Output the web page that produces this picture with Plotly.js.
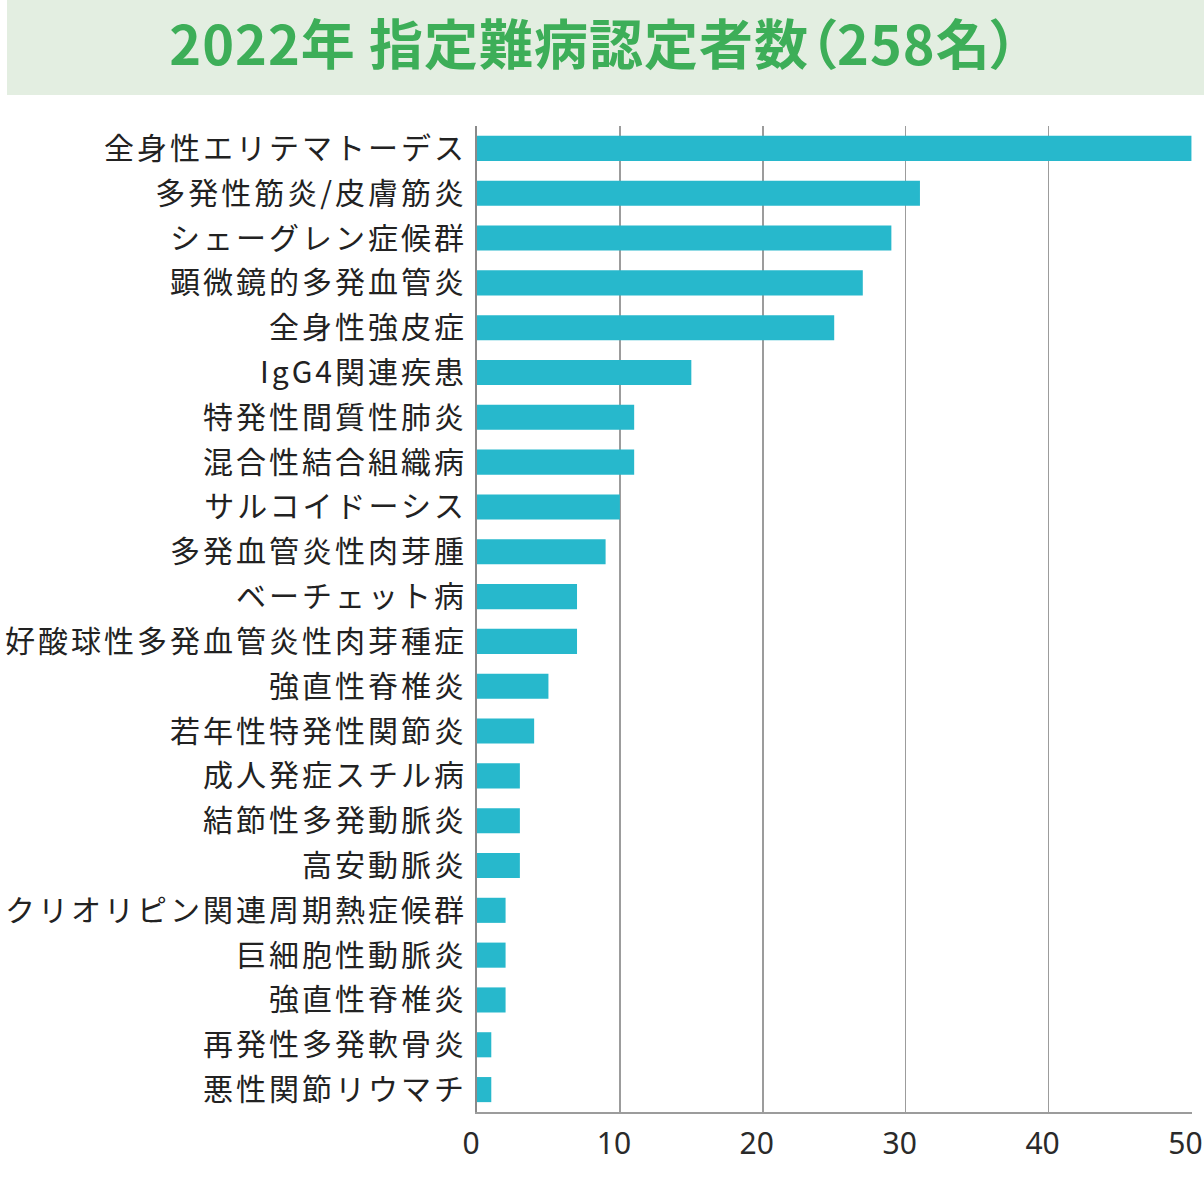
<!DOCTYPE html>
<html>
<head>
<meta charset="utf-8">
<script src="https://cdn.plot.ly/plotly-3.0.1.min.js"></script>
<style>
  html, body { margin: 0; padding: 0; background: #fff; }
  #chart { width: 1204px; height: 1181px; }
  .gtitle { font-feature-settings: "palt"; letter-spacing: 1px; }
  .ytick text { letter-spacing: 3px; }
</style>
</head>
<body>
<div id="chart"></div>
<script>
// 病名と認定者数（上から順）
const diseases = [
  '全身性エリテマトーデス',
  '多発性筋炎/皮膚筋炎',
  'シェーグレン症候群',
  '顕微鏡的多発血管炎',
  '全身性強皮症',
  'IgG4関連疾患',
  '特発性間質性肺炎',
  '混合性結合組織病',
  'サルコイドーシス',
  '多発血管炎性肉芽腫',
  'ベーチェット病',
  '好酸球性多発血管炎性肉芽種症',
  '強直性脊椎炎',
  '若年性特発性関節炎',
  '成人発症スチル病',
  '結節性多発動脈炎',
  '高安動脈炎',
  'クリオリピン関連周期熱症候群',
  '巨細胞性動脈炎',
  '強直性脊椎炎',
  '再発性多発軟骨炎',
  '悪性関節リウマチ'
];
const counts = [50, 31, 29, 27, 25, 15, 11, 11, 10, 9, 7, 7, 5, 4, 3, 3, 3, 2, 2, 2, 1, 1];
const xTicks = [0, 10, 20, 30, 40, 50];

// the same label appears twice, so the rows go by index
const rows = diseases.map((d, i) => i);

const trace = {
  type: 'bar',
  orientation: 'h',
  x: counts,
  y: rows,
  width: 0.56,
  marker: { color: '#27b8cc' },
  hoverinfo: 'x'
};

const layout = {
  width: 1204,
  height: 1181,
  margin: { l: 477, r: 12, t: 126, b: 69 },
  paper_bgcolor: '#ffffff',
  plot_bgcolor: '#ffffff',
  showlegend: false,
  title: {
    text: '<b>2022年 指定難病認定者数（258名）</b>',
    font: { family: '"Noto Sans CJK JP", sans-serif', size: 54, color: '#3dae58' },
    x: 594 / 1204,
    xanchor: 'center',
    xref: 'container',
    y: 1 - 46 / 1181,
    yanchor: 'middle'
  },
  shapes: [{
    type: 'rect',
    xref: 'paper', yref: 'paper',
    x0: (7 - 477) / 715, x1: (1204 - 477) / 715,
    y0: (986 - (95 - 126)) / 986, y1: (986 + 126) / 986,
    fillcolor: '#e3eee1',
    line: { width: 0 },
    layer: 'below'
  }],
  xaxis: {
    range: [0, 50.04],
    tickvals: xTicks,
    ticks: '',
    showgrid: true,
    gridcolor: '#9c9c9c',
    gridwidth: 1.5,
    zeroline: false,
    showline: true,
    linecolor: '#9c9c9c',
    linewidth: 1.5,
    tickfont: { family: '"Noto Sans", sans-serif', size: 30, color: '#2a2a2a' },
    ticklabelstandoff: 4,
    ticklabelshift: -6,
    fixedrange: true
  },
  yaxis: {
    tickvals: rows,
    ticktext: diseases,
    range: [diseases.length - 0.5, -0.5],
    ticks: '',
    showgrid: false,
    zeroline: false,
    showline: true,
    linecolor: '#8a8a8a',
    linewidth: 2,
    tickfont: { family: '"Noto Sans CJK JP", sans-serif', size: 30, color: '#222222' },
    ticklabelstandoff: 2,
    fixedrange: true
  },
  bargap: 0.44
};

Plotly.newPlot('chart', [trace], layout, { displayModeBar: false, staticPlot: true });
</script>
</body>
</html>
